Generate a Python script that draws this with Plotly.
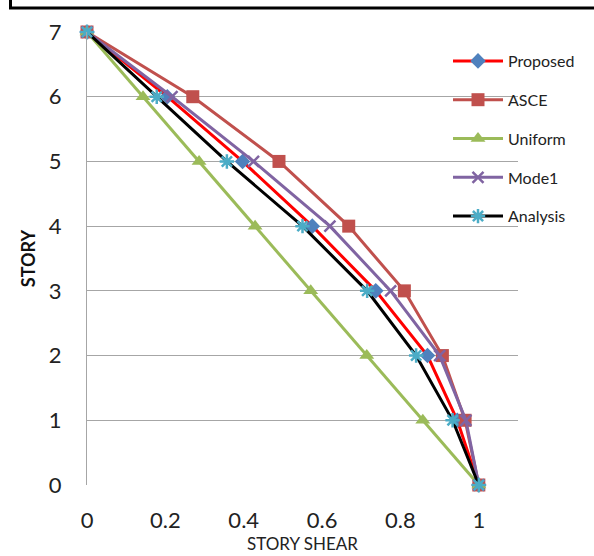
import plotly.graph_objects as go

stories = [0, 1, 2, 3, 4, 5, 6, 7]
proposed = [1.0, 0.945, 0.869, 0.737, 0.575, 0.397, 0.205, 0.0]
asce = [1.0, 0.965, 0.907, 0.810, 0.668, 0.490, 0.270, 0.0]
uniform = [1.0, 0.857, 0.714, 0.571, 0.429, 0.286, 0.143, 0.0]
mode1 = [1.0, 0.967, 0.900, 0.775, 0.620, 0.425, 0.217, 0.0]
analysis = [1.0, 0.933, 0.840, 0.715, 0.550, 0.357, 0.178, 0.0]

series = [
    ("Proposed", proposed, "#FF0000", "#4F81BD", "diamond", 12, 0),
    ("ASCE", asce, "#C0504D", "#C0504D", "square", 13, 0),
    ("Uniform", uniform, "#9BBB59", "#9BBB59", "triangle-up", 13, 0),
    ("Mode1", mode1, "#8064A2", "#8064A2", "x-thin-open", 11, 2.5),
    ("Analysis", analysis, "#000000", "#4BACC6", "asterisk-open", 12, 2.5),
]

fig = go.Figure()
for i, (name, vals, lc, mc, sym, ms, mlw) in enumerate(series):
    marker = dict(symbol=sym, size=ms, color=mc)
    if mlw:
        marker["line"] = dict(color=mc, width=mlw)
    else:
        marker["line"] = dict(width=0)
    fig.add_trace(go.Scatter(
        x=vals, y=stories, name=name, mode="lines+markers",
        line=dict(color=lc, width=3), marker=marker,
        legendgroup=name, cliponaxis=False,
    ))

font = "Lato, 'Open Sans', sans-serif"
L, R, T, B = 87, 76, 32, 71
pw, ph = 594 - L - R, 556 - T - B

def px(x):
    return (x - L) / pw

def py(y):
    return (556 - B - y) / ph

fig.update_layout(
    width=594, height=556,
    margin=dict(l=L, r=R, t=T, b=B, autoexpand=False),
    paper_bgcolor="white", plot_bgcolor="white",
    font=dict(family=font, color="#222222"),
    showlegend=True,
    legend=dict(
        x=px(448), y=py(44), xanchor="left", yanchor="top",
        font=dict(size=16, family=font, color="#222222"),
        bgcolor="rgba(255,255,255,0)", tracegroupgap=15,
        itemwidth=50,
    ),
    xaxis=dict(
        range=[0, 1.1], tickvals=[0, 0.2, 0.4, 0.6, 0.8, 1],
        ticktext=["0", "0.2", "0.4", "0.6", "0.8", "1"],
        showgrid=False, zeroline=False, showline=False, automargin=False,
        ticks="outside", ticklen=16, tickcolor="rgba(0,0,0,0)",
        tickfont=dict(size=22, family=font, color="#222222"),
        title=dict(text="STORY SHEAR", font=dict(size=17, family=font, color="#222222"), standoff=1),
    ),
    yaxis=dict(
        range=[0, 7], dtick=1, tick0=0, automargin=False,
        showgrid=True, gridcolor="#A6A6A6", gridwidth=1,
        zeroline=False, showline=True, linecolor="#A6A6A6", linewidth=1,
        ticks="outside", ticklen=20, tickcolor="rgba(0,0,0,0)",
        tickfont=dict(size=22, family=font, color="#222222"),
        title=dict(text="<b>STORY</b>", font=dict(size=18, family=font, color="#111111"), standoff=8),
    ),
    shapes=[
        dict(type="path", xref="paper", yref="paper",
             path=f"M {px(10.5)} {py(-5)} L {px(10.5)} {py(8)} L {px(600)} {py(8)}",
             line=dict(color="black", width=3)),
    ],
)

fig.write_html("out.html")
